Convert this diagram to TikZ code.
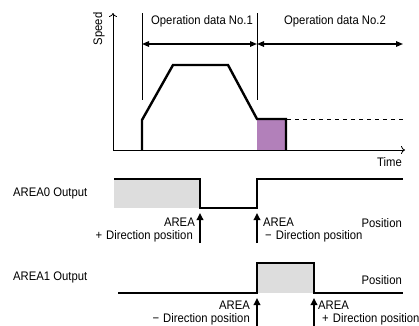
\documentclass[tikz,border=0pt]{standalone}
\usepackage{fontspec}
\setmainfont{Liberation Sans}[FakeStretch=0.91]
\usetikzlibrary{arrows.meta}
\definecolor{areapurple}{RGB}{178,128,186}
\definecolor{areagray}{RGB}{221,221,221}
\tikzset{
  lbl/.style={font=\fontsize{12.4}{14}\selectfont, inner sep=0pt},
  sig/.style={line width=2.4pt, line join=miter},
  upar/.style={line width=2pt, -{Triangle[width=6.5pt,length=7pt]}},
  span/.style={line width=1.4pt, {Triangle[width=5.5pt,length=7pt]}-{Triangle[width=5.5pt,length=7pt]}},
  axis/.style={line width=0.8pt, -{To[length=4pt,width=8pt]}},
}

\begin{document}
\begin{tikzpicture}[x=1pt,y=-1pt]
\useasboundingbox (0,0) rectangle (419,325);

% speed chart
\coordinate (orig) at (113,150);
\coordinate (vtop) at (113,13);
\coordinate (hend) at (405,150);
\draw [axis] (orig)--(vtop);
\draw [axis] (orig)--(hend);
\draw (99,29)node[lbl,rotate=90](speed){Speed};
\draw (402,162)node[lbl,anchor=east](time){Time};

\coordinate (s1top) at (142,13);
\coordinate (s1bot) at (142,100);
\coordinate (s2top) at (257,13);
\coordinate (s2bot) at (257,100);
\draw [line width=0.8pt] (s1top)--(s1bot);
\draw [line width=0.8pt] (s2top)--(s2bot);
\coordinate (a1) at (142,44);
\coordinate (a2) at (257,44);
\coordinate (a3) at (403,44);
\draw [span] (a1)--(a2);
\draw [span] (a2)--(a3);
\draw (202,21)node[lbl](op1){Operation data No.1};
\draw (335,21)node[lbl](op2){Operation data No.2};

\fill [areapurple] (257,120) rectangle (286,150);
\draw [sig] (142,150)--(142,120)--(173,65)--(228,65)--(257,119)--(286,119)--(286,150);
\coordinate (d1) at (287,119);
\coordinate (d2) at (403,119);
\draw [dashed, line width=0.7pt, dash pattern=on 4pt off 4pt] (d1)--(d2);

% AREA0
\draw (13,193)node[lbl,anchor=west](out0){AREA0 Output};
\fill [areagray] (114,179) rectangle (200,208);
\draw [sig] (114,179)--(200,179)--(200,208)--(257,208)--(257,179)--(403,179);
\coordinate (p1b) at (200,243);
\coordinate (p1t) at (200,213);
\coordinate (p2b) at (257,243);
\coordinate (p2t) at (257,213);
\draw [upar] (p1b)--(p1t);
\draw [upar] (p2b)--(p2t);
\draw (195,222)node[lbl,anchor=east](ar1){AREA};
\draw (193,236)node[lbl,anchor=east](dir1){+\,\,Direction position};
\draw (263,222)node[lbl,anchor=west](ar2){AREA};
\draw (265,236)node[lbl,anchor=west](dir2){−\,\,Direction position};
\draw (402,223)node[lbl,anchor=east](pos0){Position};

% AREA1
\draw (13,277)node[lbl,anchor=west](out1){AREA1 Output};
\fill [areagray] (257,263) rectangle (314,293);
\draw [sig] (118,293)--(257,293)--(257,263)--(314,263)--(314,293)--(403,293);
\coordinate (p3b) at (257,327);
\coordinate (p3t) at (257,298);
\coordinate (p4b) at (314,327);
\coordinate (p4t) at (314,298);
\draw [upar] (p3b)--(p3t);
\draw [upar] (p4b)--(p4t);
\draw (250,305)node[lbl,anchor=east](ar3){AREA};
\draw (250,319)node[lbl,anchor=east](dir3){−\,\,Direction position};
\draw (318,305)node[lbl,anchor=west](ar4){AREA};
\draw (322,319)node[lbl,anchor=west](dir4){+\,\,Direction position};
\draw (402,280)node[lbl,anchor=east](pos1){Position};
\end{tikzpicture}
\end{document}
